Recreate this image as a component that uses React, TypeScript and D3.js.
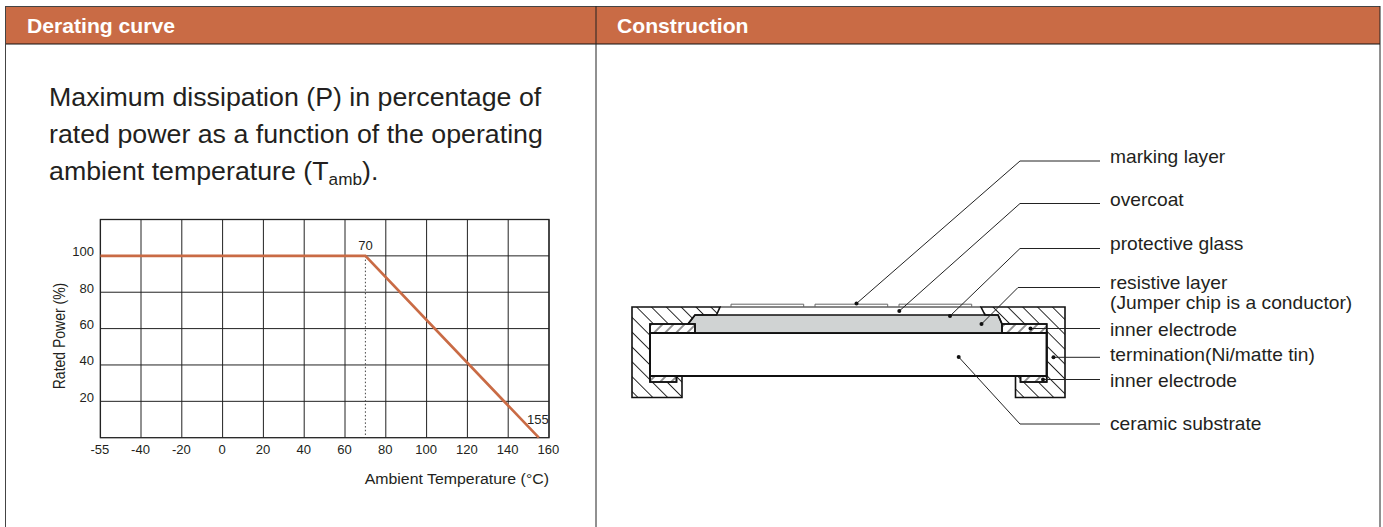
import React from "react";
import * as d3 from "d3";

const WIDTH = 1383;
const HEIGHT = 527;
const ORANGE = "#C96B45";
const INK = "#231F20";
const FONT = "'Liberation Sans', Arial, sans-serif";

// ---- chart data
const xTicks = [-55, -40, -20, 0, 20, 40, 60, 80, 100, 120, 140, 160];
const yTicks = [20, 40, 60, 80, 100];
const deratingTemp = [-55, 70, 155];
const deratingPower = [100, 100, 0];

// ---- panel text
const panelTitles = ["Derating curve", "Construction"];
const descriptionLines = [
  "Maximum dissipation (P) in percentage of",
  "rated power as a function of the operating",
];

// ---- construction labels, one leader per label: dot, elbow, label row
const constructionLabels = [
  "marking layer",
  "overcoat",
  "protective glass",
  "resistive layer",
  "inner electrode",
  "termination(Ni/matte tin)",
  "inner electrode",
  "ceramic substrate",
];
const leaderDots: [number, number][] = [
  [856.5, 303.5], [899.3, 311], [950, 316], [981.5, 324],
  [1030.5, 328.5], [1053.5, 357.3], [1043, 379.5], [958.7, 357],
];
const leaderElbowX = [1020, 1020, 1020, 1018, null, null, null, 1020];
const leaderRowY = [161, 203.5, 248.5, 287.5, 328.5, 357.3, 379.5, 424];
const labelBaseline = [163, 206, 250, 289, 336, 361, 387, 430];

// ---- construction cross-section outlines
type P = [number, number];
const terminationLeft: P[] = [
  [632, 307], [720, 307], [716.5, 315], [695, 315], [688, 324], [650, 324],
  [650, 382], [676.5, 382], [676.5, 376], [682, 376], [682, 397.5], [632, 397.5],
];
const terminationRight: P[] = [
  [981, 307], [1065, 307], [1065, 397.5], [1015.5, 397.5], [1015.5, 376],
  [1020.5, 376], [1020.5, 382], [1046.7, 382], [1046.7, 324], [1002, 324],
  [998, 315], [985, 315],
];
const electrodes: P[][] = [
  [[650, 324], [695, 324], [695, 333], [650, 333]],
  [[1002, 324], [1046.7, 324], [1046.7, 333], [1002, 333]],
  [[650, 376], [676.5, 376], [676.5, 382], [650, 382]],
  [[1020.5, 376], [1046.7, 376], [1046.7, 382], [1020.5, 382]],
];
const resistive: P[] = [
  [695, 333], [695, 324], [688, 324], [695, 315], [998, 315], [1002, 324], [1002, 333],
];
const substrate: P[] = [[650, 333], [1046.7, 333], [1046.7, 376], [650, 376]];
const overcoatTop: P[] = [[720, 307], [981, 307]];
const markingPads: P[][] = [
  [[731, 307], [731, 304.2], [803.7, 304.2], [803.7, 307]],
  [[815, 307], [815, 304.2], [887.7, 304.2], [887.7, 307]],
  [[899, 307], [899, 304.2], [971.7, 304.2], [971.7, 307]],
];

const closed = d3.line<P>().curve(d3.curveLinearClosed);
const open = d3.line<P>();

// The reference page was resampled a little wider than tall, so its glyphs are stretched.
function Wide({ x, y, sx, size, anchor, weight, fill, children }: any) {
  return (
    <text
      transform={`translate(${x} ${y}) scale(${sx} 1)`}
      fontSize={size}
      textAnchor={anchor ?? "start"}
      fontWeight={weight ?? 400}
      fill={fill ?? INK}
    >
      {children}
    </text>
  );
}

export default function App() {
  // The axis is categorical at its low end: -55 sits one full step left of -40.
  const x = d3.scaleLinear().domain([-55, -40, 160]).range([100.4, 141, 549]);
  const y = d3.scaleLinear().domain([0, 120]).range([437.7, 219.5]);

  const derating = d3
    .line<number>()
    .x((t) => x(t))
    .y((_, i) => y(deratingPower[i]))(deratingTemp);

  return (
    <svg
      width={WIDTH}
      height={HEIGHT}
      viewBox={`0 0 ${WIDTH} ${HEIGHT}`}
      style={{ position: "absolute", left: 0, top: 0, fontFamily: FONT }}
    >
      <defs>
        <pattern id="hatchBack" width="10.5" height="10.5" patternUnits="userSpaceOnUse" patternTransform="rotate(-45 632 307)">
          <line x1="5.25" y1="0" x2="5.25" y2="10.5" stroke="#222" strokeWidth="1" />
        </pattern>
        <pattern id="hatchFwd" width="7.8" height="7.8" patternUnits="userSpaceOnUse" patternTransform="rotate(45 650 324)">
          <line x1="3.9" y1="0" x2="3.9" y2="7.8" stroke="#222" strokeWidth="1" />
        </pattern>
      </defs>

      <rect width={WIDTH} height={HEIGHT} fill="#fff" />

      {/* panel frame */}
      <rect x={5.5} y={6.5} width={1374.5} height={37.5} fill={ORANGE} />
      <line x1={5.5} x2={1380} y1={6.5} y2={6.5} stroke="#444" strokeWidth={1} />
      <line x1={5.5} x2={1380} y1={44} y2={44} stroke="#111" strokeWidth={1} />
      <line x1={5.5} x2={5.5} y1={6} y2={527} stroke="#444" strokeWidth={1} />
      <line x1={596} x2={596} y1={6} y2={527} stroke="#222" strokeWidth={1} />
      <line x1={1380} x2={1380} y1={6} y2={527} stroke="#222" strokeWidth={1} />
      {panelTitles.map((t, i) => (
        <Wide key={t} x={i === 0 ? 27 : 617} y={32.5} sx={1.085} size={19.5} weight={700} fill="#fff">
          {t}
        </Wide>
      ))}

      {/* description */}
      {descriptionLines.map((t, i) => (
        <Wide key={t} x={49} y={106 + i * 37} sx={1.01} size={26.5}>
          {t}
        </Wide>
      ))}
      <Wide x={49} y={180} sx={1.01} size={26.5}>
        ambient temperature (T<tspan fontSize={17} dy={5}>amb</tspan>
        <tspan dy={-5}>).</tspan>
      </Wide>

      {/* grid */}
      {xTicks.map((t) => (
        <line key={t} x1={x(t)} x2={x(t)} y1={y(120)} y2={y(0)} stroke="#222" strokeWidth={1} />
      ))}
      {yTicks.map((t) => (
        <line key={t} x1={x(-55)} x2={x(160)} y1={y(t)} y2={y(t)} stroke="#222" strokeWidth={1} />
      ))}
      <rect x={x(-55)} y={y(120)} width={x(160) - x(-55)} height={y(0) - y(120)} fill="none" stroke="#222" strokeWidth={1.3} />
      <line x1={x(70)} x2={x(70)} y1={y(100)} y2={y(0)} stroke="#444" strokeWidth={1} strokeDasharray="1.5 2.2" />
      <path d={derating ?? ""} fill="none" stroke={ORANGE} strokeWidth={2.6} />

      {/* chart text */}
      {xTicks.map((t) => (
        <Wide key={t} x={x(t) - 0.5} y={454} sx={1.045} size={12.5} anchor="middle">
          {t}
        </Wide>
      ))}
      {yTicks.map((t) => (
        <Wide key={t} x={94} y={y(t) + 0.5} sx={1.045} size={12.5} anchor="end">
          {t}
        </Wide>
      ))}
      <Wide x={x(70)} y={250} sx={1.045} size={12.5} anchor="middle">70</Wide>
      <Wide x={538} y={424} sx={1.045} size={12.5} anchor="middle">155</Wide>
      <Wide x={549} y={484} sx={1.06} size={15} anchor="end">Ambient Temperature (°C)</Wide>
      <text transform="translate(64.5 336) rotate(-90) scale(1 1.13)" textAnchor="middle" fontSize={14} fill={INK}>Rated Power (%)</text>

      {/* construction */}
      <path d={closed(substrate) ?? ""} fill="#fff" stroke="#111" strokeWidth={2} />
      <path d={closed(resistive) ?? ""} fill="#D0D3D3" stroke="#111" strokeWidth={1.6} />
      <path d={closed(terminationLeft) ?? ""} fill="url(#hatchBack)" stroke="#111" strokeWidth={1.6} />
      <path d={closed(terminationRight) ?? ""} fill="url(#hatchBack)" stroke="#111" strokeWidth={1.6} />
      {electrodes.map((e, i) => (
        <path key={i} d={closed(e) ?? ""} fill="url(#hatchFwd)" stroke="#111" strokeWidth={1.6} />
      ))}
      <path d={closed(substrate) ?? ""} fill="none" stroke="#111" strokeWidth={1.6} />
      <path d={open(overcoatTop) ?? ""} fill="none" stroke="#111" strokeWidth={1.2} />
      {markingPads.map((p, i) => (
        <path key={i} d={open(p) ?? ""} fill="none" stroke="#666" strokeWidth={1} />
      ))}

      {constructionLabels.map((label, i) => {
        const [dx, dy] = leaderDots[i];
        const elbow = leaderElbowX[i];
        const pts: P[] = elbow == null
          ? [[dx, dy], [1100, leaderRowY[i]]]
          : [[dx, dy], [elbow, leaderRowY[i]], [1100, leaderRowY[i]]];
        return (
          <g key={i}>
            <path d={open(pts) ?? ""} fill="none" stroke="#222" strokeWidth={1} />
            <circle cx={dx} cy={dy} r={2} fill="#111" />
            <Wide x={1110} y={labelBaseline[i]} sx={1.067} size={18}>{label}</Wide>
          </g>
        );
      })}
      <Wide x={1110} y={308.5} sx={1.067} size={18}>(Jumper chip is a conductor)</Wide>
    </svg>
  );
}
